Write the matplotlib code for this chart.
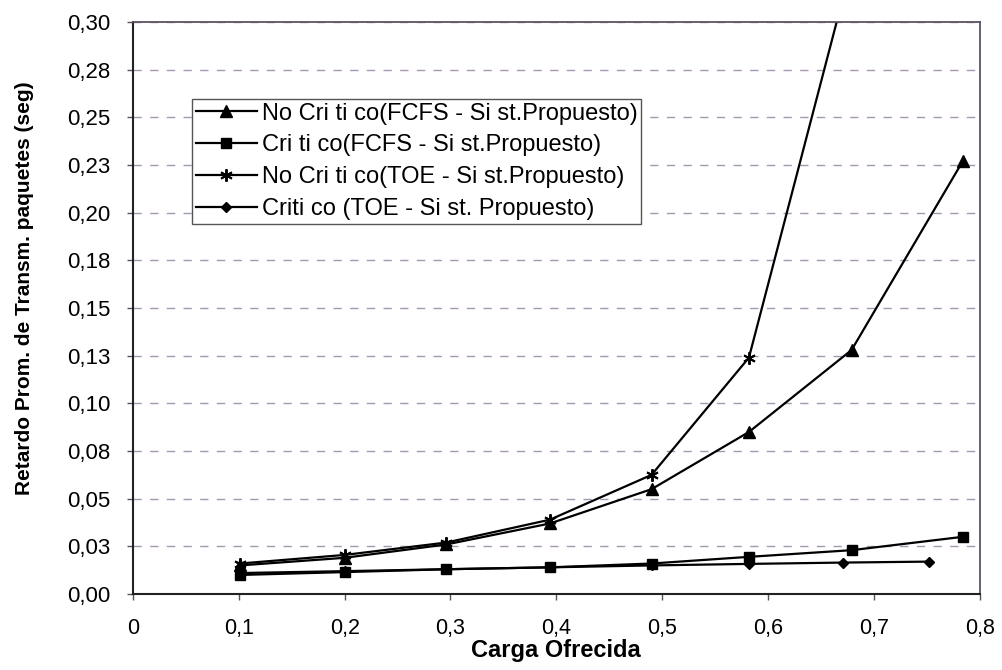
import matplotlib
matplotlib.use("Agg")
import matplotlib.pyplot as plt

plt.rcParams['font.family'] = ['Liberation Sans', 'DejaVu Sans']

# Offered load (x) for each series
x_fcfs = [0.101, 0.200, 0.296, 0.394, 0.490, 0.582, 0.679, 0.784]
x_toe_nc = [0.101, 0.200, 0.296, 0.394, 0.490, 0.582, 0.679]
x_toe_c = [0.101, 0.200, 0.296, 0.394, 0.490, 0.582, 0.671, 0.752]

# Mean packet transmission delay (s)
nc_fcfs = [0.015, 0.019, 0.026, 0.037, 0.055, 0.085, 0.128, 0.227]
c_fcfs = [0.010, 0.0115, 0.013, 0.014, 0.016, 0.0195, 0.023, 0.030]
nc_toe = [0.016, 0.0205, 0.027, 0.039, 0.0625, 0.124, 0.33]
c_toe = [0.011, 0.012, 0.013, 0.014, 0.015, 0.0158, 0.0165, 0.017]

labels = ["No Cri ti co(FCFS - Si st.Propuesto)",
          "Cri ti co(FCFS - Si st.Propuesto)",
          "No Cri ti co(TOE - Si st.Propuesto)",
          "Criti co (TOE - Si st. Propuesto)"]

y_ticks = [0.0, 0.025, 0.05, 0.075, 0.10, 0.125, 0.15, 0.175, 0.20, 0.225, 0.25, 0.275, 0.30]
y_tick_labels = ["0,00", "0,03", "0,05", "0,08", "0,10", "0,13", "0,15",
                 "0,18", "0,20", "0,23", "0,25", "0,28", "0,30"]
x_ticks = [0, 0.1, 0.2, 0.3, 0.4, 0.5, 0.6, 0.7, 0.8]
x_tick_labels = ["0", "0,1", "0,2", "0,3", "0,4", "0,5", "0,6", "0,7", "0,8"]

fig = plt.figure(figsize=(10.02, 6.70), dpi=100)
ax = fig.add_axes([0.1327, 0.1134, 0.845, 0.8536])

lw = 1.6
ax.plot(x_fcfs, nc_fcfs, color='black', lw=lw, marker='^', ms=8, label=labels[0])
ax.plot(x_fcfs, c_fcfs, color='black', lw=lw, marker='s', ms=7, label=labels[1])
ax.plot(x_toe_nc, nc_toe, color='black', lw=lw, marker=(6, 2, 0), ms=9, mew=1.4, label=labels[2])
ax.plot(x_toe_c, c_toe, color='black', lw=lw, marker='D', ms=5.5, label=labels[3])

ax.set_xlim(0, 0.8)
ax.set_ylim(0, 0.30)
ax.set_yticks(y_ticks)
ax.set_yticklabels(y_tick_labels)
ax.set_xticks(x_ticks)
ax.set_xticklabels(x_tick_labels)
ax.tick_params(axis='both', length=4, width=1, color='#555555')
ax.tick_params(axis='x', labelsize=15.5, pad=13)
ax.tick_params(axis='y', labelsize=16, pad=12)

ax.yaxis.grid(True, linestyle=(0, (6, 6)), color='#a898ae', lw=1.0)
ax.set_axisbelow(True)

for side in ['left', 'bottom']:
    ax.spines[side].set_color('#222222')
    ax.spines[side].set_linewidth(1.5)
for side in ['top', 'right']:
    ax.spines[side].set_color('#5e5262')
    ax.spines[side].set_linewidth(1.3)

ax.set_xlabel("Carga Ofrecida", fontsize=17, fontweight='bold')
ax.xaxis.set_label_coords(0.5, -0.078)
ax.set_ylabel("Retardo Prom. de Transm. paquetes (seg)", fontsize=15,
              fontweight='bold')
ax.yaxis.set_label_coords(-0.117, 0.534)

leg = ax.legend(loc='upper left', bbox_to_anchor=(192 / 1002, 1 - 99 / 670),
                bbox_transform=fig.transFigure, fontsize=17, frameon=True,
                fancybox=False, edgecolor='#555555', framealpha=1,
                handlelength=2.6, handletextpad=0.2, labelspacing=0.42,
                borderpad=0.15, borderaxespad=0)
leg.get_frame().set_linewidth(1.0)

fig.savefig("out.png", dpi=100)
